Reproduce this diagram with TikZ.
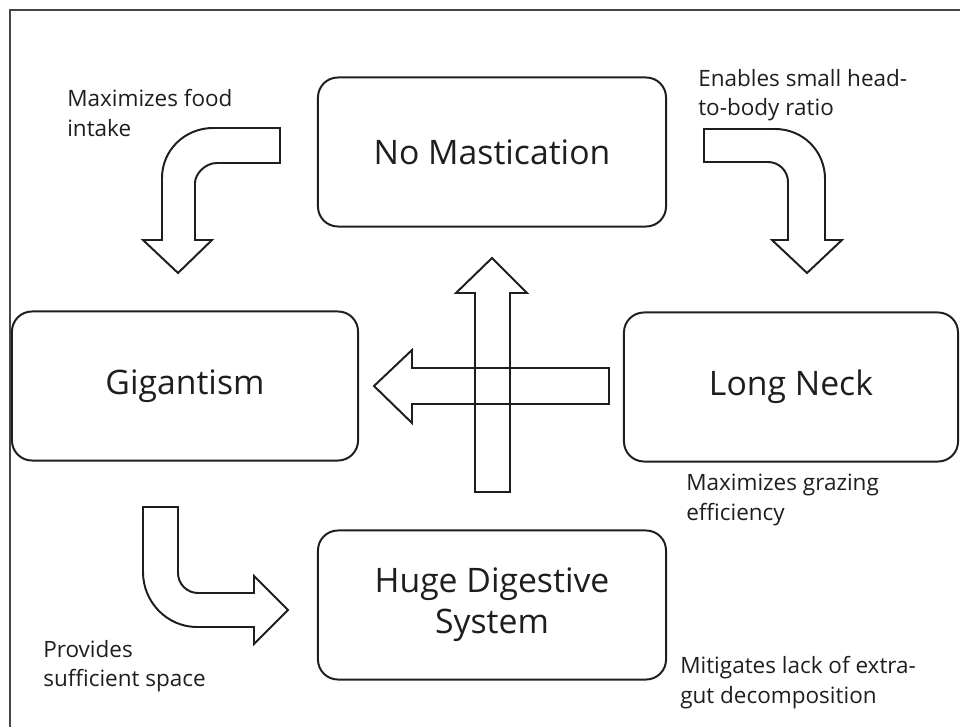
\documentclass[tikz,border=0pt]{standalone}
\usepackage{fontspec}
\setmainfont{Open Sans}
\usepackage{tikz}
\usetikzlibrary{positioning,calc}
\definecolor{ink}{RGB}{30,30,30}
\definecolor{framegrey}{RGB}{70,70,70}

\begin{document}
\begin{tikzpicture}[x=0.025cm,y=-0.025cm,
box/.style={draw=ink,line width=1.4pt,rounded corners=0.5cm,rectangle,minimum height=3.725cm,align=center,text=ink,font=\fontsize{24}{29}\selectfont},
note/.style={inner sep=0pt,anchor=north west,align=left,text=ink,font=\fontsize{16}{21}\selectfont},
blockarrow/.style={draw=ink,line width=1.4pt,line join=miter}]

\useasboundingbox (0,0) rectangle (960,727);
\draw[framegrey,line width=1pt] (10,10) rectangle (990,760);

%boxes
\node [box,minimum width=8.7cm] (mast) at (492,152) {No Mastication};
\node [box,minimum width=8.65cm] (gig) at (185,386) {Gigantism};
\node [box,minimum width=8.35cm] (neck) at (791,387) {Long Neck};
\node [box,minimum width=8.7cm] (dig) at (492,605) {Huge Digestive\\System};

%notes
\node [note] (food) at (67,89) {Maximizes food\\intake};
\node [note] (head) at (698,69) {Enables small head-\\to-body ratio};
\node [note] (graze) at (686,474) {Maximizes grazing\\efficiency};
\node [note] (space) at (43,640) {Provides\\sufficient space};
\node [note] (gut) at (680,656) {Mitigates lack of extra-\\gut decomposition};

%bent arrows
\draw[blockarrow] (280,128) -- (213,128) .. controls (185,128) and (162,150) .. (162,178) -- (162,240) -- (143,240) -- (178,273) -- (212,240) -- (195,240) -- (195,183) .. controls (195,174) and (205,163) .. (217,163) -- (280,163) -- cycle;

\draw[blockarrow] (704,129) -- (775,129) .. controls (803,129) and (825,151) .. (825,179) -- (825,240) -- (842,240) -- (807,273) -- (772,240) -- (788,240) -- (788,182) .. controls (788,171) and (779,162) .. (768,162) -- (704,162) -- cycle;

\draw[blockarrow] (143,507) -- (178,507) -- (178,573) .. controls (178,584) and (187,593) .. (198,593) -- (254,593) -- (254,576) -- (288,610) -- (254,644) -- (254,627) -- (197,627) .. controls (167,627) and (143,602) .. (143,572) -- cycle;

%cross
\draw[blockarrow] (475,492) -- (475,293) -- (456,293) -- (492,258) -- (527,293) -- (510,293) -- (510,492) -- cycle;
\draw[blockarrow] (609,368) -- (412,368) -- (412,350) -- (374,386) -- (412,423) -- (412,404) -- (609,404) -- cycle;

\end{tikzpicture}
\end{document}
